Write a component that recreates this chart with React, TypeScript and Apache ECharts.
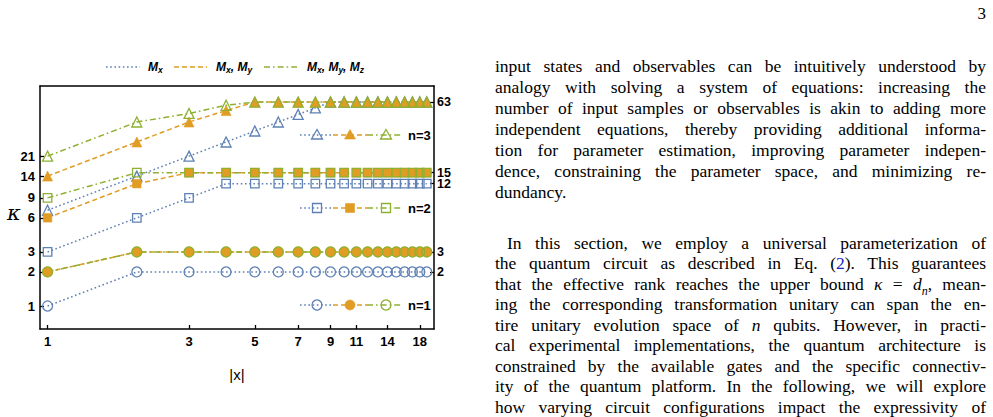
import React, { useEffect, useRef } from "react";
import * as echarts from "echarts";

// ---------- data ----------
const xValues = [1, 2, 3, 4, 5, 6, 7, 8, 9, 10, 11, 12, 13, 14, 15, 16, 17, 18, 19];

const n1Mx = [1, 2, 2, 2, 2, 2, 2, 2, 2, 2, 2, 2, 2, 2, 2, 2, 2, 2, 2];
const n1MxMy = [2, 3, 3, 3, 3, 3, 3, 3, 3, 3, 3, 3, 3, 3, 3, 3, 3, 3, 3];
const n1MxMyMz = [2, 3, 3, 3, 3, 3, 3, 3, 3, 3, 3, 3, 3, 3, 3, 3, 3, 3, 3];

const n2Mx = [3, 6, 9, 12, 12, 12, 12, 12, 12, 12, 12, 12, 12, 12, 12, 12, 12, 12, 12];
const n2MxMy = [6, 12, 15, 15, 15, 15, 15, 15, 15, 15, 15, 15, 15, 15, 15, 15, 15, 15, 15];
const n2MxMyMz = [9, 15, 15, 15, 15, 15, 15, 15, 15, 15, 15, 15, 15, 15, 15, 15, 15, 15, 15];

const n3Mx = [7, 14, 21, 28, 35, 42, 49, 56, 63, 63, 63, 63, 63, 63, 63, 63, 63, 63, 63];
const n3MxMy = [14, 28, 42, 53, 63, 63, 63, 63, 63, 63, 63, 63, 63, 63, 63, 63, 63, 63, 63];
const n3MxMyMz = [21, 42, 50, 59, 63, 63, 63, 63, 63, 63, 63, 63, 63, 63, 63, 63, 63, 63, 63];

const xTicks = [1, 3, 5, 7, 9, 11, 14, 18];
const yTicksLeft = [1, 2, 3, 6, 9, 14, 21];
const yTicksRight = [2, 3, 12, 15, 63];

const legendLabels = ["n=3", "n=2", "n=1"];

const paragraph1 = [
  "input states and observables can be intuitively understood by",
  "analogy with solving a system of equations: increasing the",
  "number of input samples or observables is akin to adding more",
  "independent equations, thereby providing additional informa-",
  "tion for parameter estimation, improving parameter indepen-",
  "dence, constraining the parameter space, and minimizing re-",
  "dundancy.",
];

// ---------- styles ----------
const BLUE = "#5E81B5";
const ORANGE = "#E19C24";
const GREEN = "#8FB032";
const DOT = [1.6, 2.6];
const DASH = [5, 3];
const DASHDOT = [6, 3, 1.6, 3];
const AX_FONT = "Liberation Sans";

function mkSeries(vals: number[], color: string, dash: number[], symbol: string, filled: boolean, size: number) {
  return {
    type: "line",
    data: xValues.map((x, i) => [x, vals[i]]),
    symbol,
    symbolSize: size,
    showAllSymbol: true,
    silent: true,
    lineStyle: { color, width: 1.5, type: dash },
    itemStyle: {
      color: filled ? color : "rgba(255,255,255,0)",
      borderColor: color,
      borderWidth: filled ? 0.6 : 1.3,
    },
    emphasis: { disabled: true },
  };
}

function legendRow(y: number, sym: "circle" | "rect" | "triangle", label: string) {
  const items: any[] = [];
  const segs = [
    { x1: 300, x2: 333, color: BLUE, dash: DOT, filled: false, mx: 317 },
    { x1: 333, x2: 367, color: ORANGE, dash: DASH, filled: true, mx: 350 },
    { x1: 367, x2: 401, color: GREEN, dash: DASHDOT, filled: false, mx: 386 },
  ];
  segs.forEach((s) => {
    items.push({
      type: "line",
      shape: { x1: s.x1, y1: y, x2: s.x2, y2: y },
      style: { stroke: s.color, lineWidth: 1.5, lineDash: s.dash },
    });
    const st = {
      fill: s.filled ? s.color : "rgba(255,255,255,0)",
      stroke: s.color,
      lineWidth: s.filled ? 0.6 : 1.3,
    };
    if (sym === "circle") items.push({ type: "circle", shape: { cx: s.mx, cy: y, r: 5 }, style: st });
    else if (sym === "rect") items.push({ type: "rect", shape: { x: s.mx - 4.5, y: y - 4.5, width: 9, height: 9 }, style: st });
    else
      items.push({
        type: "polygon",
        shape: { points: [[s.mx, y - 5.5], [s.mx + 5.5, y + 4], [s.mx - 5.5, y + 4]] },
        style: st,
      });
  });
  items.push({
    type: "text",
    x: 408,
    y,
    style: { text: label, fontFamily: AX_FONT, fontWeight: "bold", fontSize: 13, fill: "#000", verticalAlign: "middle" },
  });
  return items;
}

const richLegend = {
  m: { fontFamily: AX_FONT, fontWeight: "bold", fontStyle: "italic", fontSize: 12, color: "#222" },
  s: { fontFamily: AX_FONT, fontWeight: "bold", fontStyle: "italic", fontSize: 8.5, color: "#222", padding: [6, 0, 0, 0] },
};

export default function App() {
  const ref = useRef<HTMLDivElement>(null);
  useEffect(() => {
    if (!ref.current) return;
    const chart = echarts.init(ref.current, undefined, { renderer: "svg" });
    const axisCommon = {
      type: "log",
      logBase: 10,
      splitLine: { show: false },
      axisLine: { show: true, lineStyle: { color: "#000", width: 1.5 } },
      axisTick: { show: true, inside: true, length: 4, lineStyle: { color: "#000", width: 1.3 } },
      axisLabel: { fontFamily: AX_FONT, fontWeight: "bold", fontSize: 13, color: "#000" },
    };
    const option: any = {
      animation: false,
      backgroundColor: "#fff",
      grid: { left: 40, top: 86, width: 394, height: 243, containLabel: false },
      xAxis: [
        {
          ...axisCommon,
          position: "bottom",
          min: 0.943,
          max: 20.1,
          axisTick: { ...axisCommon.axisTick, customValues: xTicks },
          axisLabel: { ...axisCommon.axisLabel, margin: 6, customValues: xTicks, formatter: (v: number) => String(Math.round(v)) },
          name: "|x|",
          nameLocation: "middle",
          nameGap: 38,
          nameTextStyle: { fontFamily: AX_FONT, fontSize: 15, color: "#000" },
        },
        {
          ...axisCommon,
          position: "top",
          min: 0.943,
          max: 20.1,
          axisTick: { show: false },
          axisLabel: { show: false },
        },
      ],
      yAxis: [
        {
          ...axisCommon,
          position: "left",
          min: 0.627,
          max: 87.3,
          axisTick: { ...axisCommon.axisTick, customValues: yTicksLeft },
          axisLabel: { ...axisCommon.axisLabel, margin: 5, customValues: yTicksLeft, formatter: (v: number) => String(Math.round(v)) },
        },
        {
          ...axisCommon,
          position: "right",
          min: 0.627,
          max: 87.3,
          axisTick: { ...axisCommon.axisTick, customValues: yTicksRight },
          axisLabel: { ...axisCommon.axisLabel, fontSize: 12.5, lineHeight: 11, margin: 3, customValues: yTicksRight, formatter: (v: number) => String(Math.round(v)) },
        },
      ],
      series: [
        mkSeries(n1Mx, BLUE, DOT, "circle", false, 10),
        mkSeries(n2Mx, BLUE, DOT, "rect", false, 8.5),
        mkSeries(n3Mx, BLUE, DOT, "triangle", false, 10),
        mkSeries(n1MxMy, ORANGE, DASH, "circle", true, 10),
        mkSeries(n2MxMy, ORANGE, DASH, "rect", true, 8.5),
        mkSeries(n3MxMy, ORANGE, DASH, "triangle", true, 10),
        mkSeries(n1MxMyMz, GREEN, DASHDOT, "circle", false, 10),
        mkSeries(n2MxMyMz, GREEN, DASHDOT, "rect", false, 8.5),
        mkSeries(n3MxMyMz, GREEN, DASHDOT, "triangle", false, 10),
      ],
      graphic: [
        // top legend
        { type: "line", shape: { x1: 106, y1: 67, x2: 140, y2: 67 }, style: { stroke: BLUE, lineWidth: 1.5, lineDash: DOT } },
        { type: "text", x: 148, y: 67, style: { text: "{m|M}{s|x}", rich: richLegend, verticalAlign: "middle" } },
        { type: "line", shape: { x1: 174, y1: 67, x2: 207, y2: 67 }, style: { stroke: ORANGE, lineWidth: 1.5, lineDash: DASH } },
        { type: "text", x: 216, y: 67, style: { text: "{m|M}{s|x}{m|, M}{s|y}", rich: richLegend, verticalAlign: "middle" } },
        { type: "line", shape: { x1: 264, y1: 67, x2: 297, y2: 67 }, style: { stroke: GREEN, lineWidth: 1.5, lineDash: DASHDOT } },
        { type: "text", x: 307, y: 67, style: { text: "{m|M}{s|x}{m|, M}{s|y}{m|, M}{s|z}", rich: richLegend, verticalAlign: "middle" } },
        // kappa label
        { type: "text", x: 14, y: 213, style: { text: "κ", fontFamily: "DejaVu Serif", fontStyle: "italic", fontSize: 21, fill: "#000", align: "center", verticalAlign: "middle" } },
        ...legendRow(135, "triangle", legendLabels[0]),
        ...legendRow(208, "rect", legendLabels[1]),
        ...legendRow(305, "circle", legendLabels[2]),
      ],
    };
    chart.setOption(option);
    return () => chart.dispose();
  }, []);

  const serif = '"Liberation Serif", "Times New Roman", serif';
  const lineStyle = (top: number, justify: boolean, indent = 0): React.CSSProperties => ({
    position: "absolute",
    left: 495 + indent,
    width: 491 - indent,
    top: top - 10,
    height: 20,
    lineHeight: "20px",
    fontFamily: serif,
    fontSize: 17.5,
    color: "#000",
    whiteSpace: "normal",
    textAlign: justify ? "justify" : "left",
    textAlignLast: justify ? "justify" : "left",
  } as React.CSSProperties);

  const p1Tops = [66, 87, 108, 129, 150, 171, 192];
  const p2Tops = [243, 263, 284, 304, 325, 345, 366, 386, 407];

  return (
    <div style={{ position: "fixed", left: 0, top: 0, width: 993, height: 417, background: "#fff", overflow: "hidden" }}>
      <div ref={ref} style={{ position: "absolute", left: 0, top: 0, width: 993, height: 417 }} />
      <div style={{ position: "absolute", left: 970, top: 4, width: 16, textAlign: "right", fontFamily: serif, fontSize: 17, lineHeight: "20px" }}>3</div>
      {paragraph1.map((t, i) => (
        <div key={"p1" + i} style={lineStyle(p1Tops[i], i < paragraph1.length - 1)}>{t}</div>
      ))}
      <div style={lineStyle(p2Tops[0], true, 12)}>In this section, we employ a universal parameterization of</div>
      <div style={lineStyle(p2Tops[1], true)}>
        the quantum circuit as described in Eq. (<span style={{ color: "#2020C0" }}>2</span>). This guarantees
      </div>
      <div style={lineStyle(p2Tops[2], true)}>
        that the effective rank reaches the upper bound <i>κ</i> = <i>d</i><sub style={{ fontSize: 12, lineHeight: 0 }}><i>n</i></sub>, mean-
      </div>
      <div style={lineStyle(p2Tops[3], true)}>ing the corresponding transformation unitary can span the en-</div>
      <div style={lineStyle(p2Tops[4], true)}>
        tire unitary evolution space of <i>n</i> qubits. However, in practi-
      </div>
      <div style={lineStyle(p2Tops[5], true)}>cal experimental implementations, the quantum architecture is</div>
      <div style={lineStyle(p2Tops[6], true)}>constrained by the available gates and the specific connectiv-</div>
      <div style={lineStyle(p2Tops[7], true)}>ity of the quantum platform. In the following, we will explore</div>
      <div style={lineStyle(p2Tops[8], true)}>how varying circuit configurations impact the expressivity of</div>
    </div>
  );
}
